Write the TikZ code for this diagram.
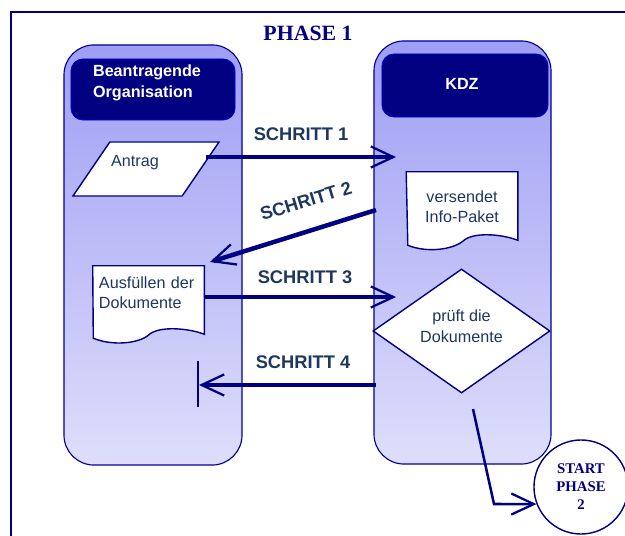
\documentclass[tikz,border=0pt]{standalone}
\usepackage{fontspec}
\setmainfont{Liberation Serif}
\setsansfont{Liberation Sans}
\usetikzlibrary{arrows.meta, calc, positioning, shapes.geometric, backgrounds}
\definecolor{lanenavy}{RGB}{0,0,128}
\definecolor{lanetop}{RGB}{158,158,244}
\definecolor{lanebottom}{RGB}{222,222,251}
\definecolor{steptext}{RGB}{30,55,95}

\begin{document}
\begin{tikzpicture}[x=0.025cm, y=-0.025cm,
    lane/.style={draw=lanenavy!80!blue, line width=0.8pt, rounded corners=0.75cm, top color=lanetop, bottom color=lanebottom},
    lanehead/.style={draw=blue!80!lanenavy, fill=lanenavy, rounded corners=0.3cm, line width=0.6pt},
    headtext/.style={text=white, font=\sffamily\bfseries\fontsize{11.5}{14.5}\selectfont, align=left},
    shapetext/.style={text=steptext, font=\sffamily\fontsize{11.5}{14.5}\selectfont},
    shapeline/.style={draw=lanenavy, fill=white, line width=1pt},
    docbox/.style={shapetext, inner xsep=0.15cm, minimum width=2.775cm, text width=2.475cm},
    steplabel/.style={text=steptext, font=\sffamily\bfseries\fontsize{13}{15}\selectfont},
    flow/.style={draw=lanenavy, line width=3.2pt, -{Straight Barb[length=16pt, width=15pt, line width=1.6pt]}},
]
    \useasboundingbox (0,0) rectangle (625,536);

    % swim lanes
    \begin{scope}[on background layer]
        \draw[lanenavy, line width=0.8pt] (11,536) -- (11,12) -- (625,12);
        \node[lane, minimum width=4.45cm, minimum height=10.5cm] (orgLane) at (153,255) {};
        \node[lane, minimum width=4.425cm, minimum height=10.575cm] (kdzLane) at (462.5,252.5) {};
        \node[lanehead, minimum width=4.1cm, minimum height=1.525cm] (orgHead) at (153,89.5) {};
        \node[lanehead, minimum width=4.15cm, minimum height=1.575cm] (kdzHead) at (465,85.5) {};
    \end{scope}

    \node[text=lanenavy, font=\rmfamily\bfseries\fontsize{15.5}{18}\selectfont] (phase) at (308,33) {PHASE 1};
    \node[headtext] (orgTitle) at (147,83) {Beantragende\\Organisation};
    \node[headtext] (kdzTitle) at (462,84) {KDZ};

    % steps
    \node[trapezium, trapezium left angle=63, trapezium right angle=117, trapezium stretches=true, shapeline, minimum width=3.65cm, minimum height=1.35cm,
          label={[shapetext, xshift=-0.275cm, yshift=0.15cm]center:Antrag}] (antrag) at (146,169) {};
    \node[docbox, align=center, minimum height=1.75cm] (infoPaket) at (462,207) {versendet\\Info-Paket};
    \node[docbox, align=left, minimum height=1.35cm] (ausfuellen) at (148.5,293) {Ausfüllen der\\Dokumente};
    \node[diamond, shapeline, minimum width=4.425cm, minimum height=3.1cm,
          label={[shapetext, align=center, yshift=0.12cm]center:prüft die\\Dokumente}] (pruefung) at (461.5,331) {};
    \node[circle, draw=lanenavy, line width=1pt, fill=white, minimum size=2.35cm, text=lanenavy, align=center,
          font=\rmfamily\bfseries\fontsize{10.5}{12.8}\selectfont] (phaseTwo) at (581,487) {START\\PHASE\\2};

    % document outlines
    \begin{scope}[on background layer]
        \draw[shapeline] (infoPaket.north west) -- (infoPaket.north east) -- ($(infoPaket.south east)+(0,-2)$)
            .. controls +(-15,-6) and +(10,-10) .. ++(-55,1) .. controls +(-10,8) and +(20,8) .. ++(-55,4) -- cycle;
        \draw[shapeline] (ausfuellen.north west) -- (ausfuellen.north east) -- ($(ausfuellen.south east)+(0,14)$)
            .. controls +(-15,-6) and +(10,-10) .. ++(-56,1) .. controls +(-10,8) and +(20,8) .. ++(-55,3) -- cycle;
    \end{scope}

    \coordinate (stepOneEnd) at (396,157);
    \coordinate (stepTwoStart) at (376,210);
    \coordinate (stepTwoEnd) at (210,262);
    \coordinate (stepThreeEnd) at (396,297);
    \coordinate (stepFourStart) at (376,385);
    \coordinate (stepFourEnd) at (199,385);
    \coordinate (checkOut) at (473,409);
    \coordinate (checkBend) at (494,504);

    \node[steplabel] (stepOne) at (301,134) {SCHRITT 1};
    \node[steplabel, rotate=17] (stepTwo) at (306,201) {SCHRITT 2};
    \node[steplabel] (stepThree) at (305,277) {SCHRITT 3};
    \node[steplabel] (stepFour) at (303,362) {SCHRITT 4};

    \draw[flow] ($(antrag.east |- stepOneEnd)+(5,0)$) -- (stepOneEnd);
    \draw[flow] (stepTwoStart) -- (stepTwoEnd);
    \draw[flow] (ausfuellen.east |- stepThreeEnd) -- (stepThreeEnd);
    \draw[flow] (stepFourStart) -- (stepFourEnd);
    \draw[lanenavy, line width=1.6pt] (198,361) -- (198,407);
    \draw[flow, line width=1.8pt] (checkOut) -- (checkBend) -- (phaseTwo.201);
\end{tikzpicture}
\end{document}
